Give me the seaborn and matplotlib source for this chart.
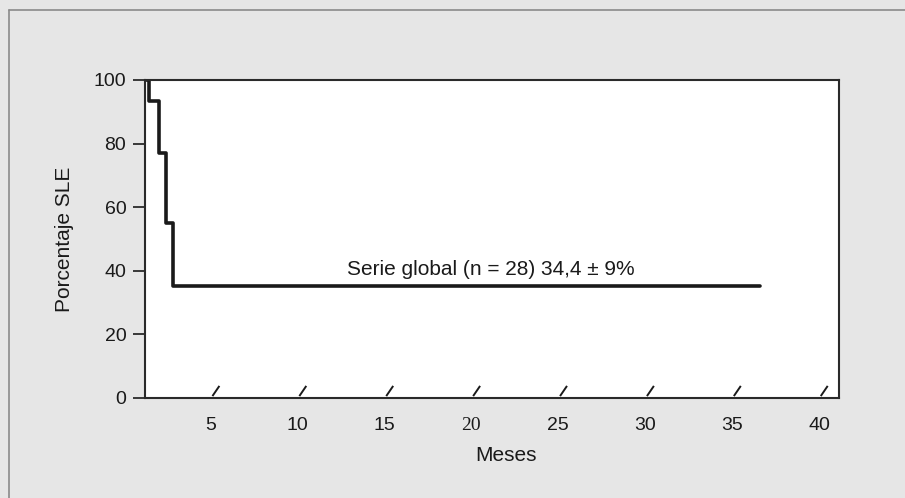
import numpy as np
import pandas as pd
import seaborn as sns
import matplotlib.pyplot as plt
from matplotlib.lines import Line2D

# survival curve (months, % disease free)
meses = [1.22, 1.45, 2.05, 2.43, 2.83, 36.6]
porcentaje = [100, 93.4, 77, 55, 35.2, 35.2]
xticks = [5, 10, 15, 20, 25, 30, 35, 40]
yticks = [0, 20, 40, 60, 80, 100]
etiqueta = "Serie global (n = 28) 34,4 \u00b1 9%"

df = pd.DataFrame({"Meses": meses, "SLE": porcentaje})

sns.set_theme(style="white")
plt.rcParams['font.family'] = ['Liberation Sans', 'DejaVu Sans']

bg = "#e6e6e6"
fig = plt.figure(figsize=(9.05, 4.98), dpi=100, facecolor=bg)
ax = fig.add_axes([145/905, 1-398/498, (839-145)/905, (398-80)/498])
ax.set_facecolor("white")

sns.lineplot(data=df, x="Meses", y="SLE", ax=ax, color="#1a1a1a",
             linewidth=2.6, drawstyle="steps-post", estimator=None)

ax.set_xlim(1.22, 41.15)
ax.set_ylim(0, 100)
ax.set_xticks(xticks)
ax.set_yticks(yticks)
for s in ax.spines.values():
    s.set_color("#2a2a2a")
    s.set_linewidth(1.5)

ax.tick_params(axis="y", direction="out", length=8.5, width=1.3, color="#2a2a2a",
               pad=5, labelsize=14, labelcolor="#1a1a1a", left=True)
ax.tick_params(axis="x", length=0, pad=14, labelsize=14, labelcolor="#1a1a1a")
# the "20" is set in a serif face in the original
for lab in ax.get_xticklabels():
    if lab.get_text() == "20":
        lab.set_fontfamily("Liberation Serif")

# axis-break slashes above each x tick
for t in xticks:
    ax.plot([t + 0.1, t + 0.5], [0.6, 3.8], color="#1a1a1a", lw=1.4,
            solid_capstyle="butt", clip_on=False)

ax.set_xlabel("Meses", fontsize=15, color="#1a1a1a")
ax.xaxis.set_label_coords(0.52, -0.152)
ax.set_ylabel("Porcentaje SLE", fontsize=15, color="#1a1a1a")
ax.yaxis.set_label_coords(-0.102, 0.5)

ax.text(21.1, 37.3, etiqueta, fontsize=15, color="#1a1a1a", ha="center", va="bottom")

# outer frame (top and left edges visible)
fig.add_artist(Line2D([9/905, 1.0], [1-10/498, 1-10/498], transform=fig.transFigure,
                      color="#8a8a8a", lw=1.2))
fig.add_artist(Line2D([9/905, 9/905], [0, 1-10/498], transform=fig.transFigure,
                      color="#8a8a8a", lw=1.2))

fig.savefig("out.png", dpi=100, facecolor=bg)
